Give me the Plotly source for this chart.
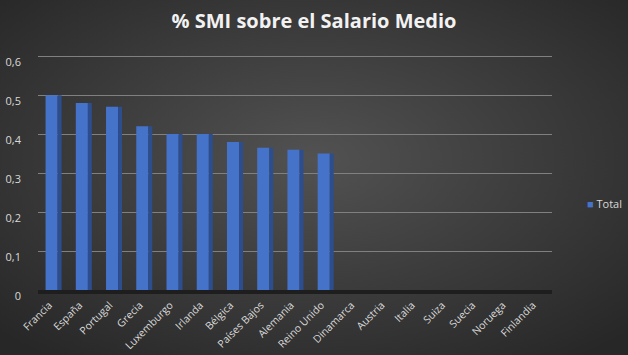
import base64
import plotly.graph_objects as go

categories = ["Francia", "España", "Portugal", "Grecia", "Luxemburgo", "Irlanda", "Bélgica",
              "Países Bajos", "Alemania", "Reino Unido", "Dinamarca", "Austria", "Italia",
              "Suiza", "Suecia", "Noruega", "Finlandia"]
values = [0.50, 0.48, 0.47, 0.42, 0.40, 0.40, 0.38, 0.365, 0.36, 0.35, 0, 0, 0, 0, 0, 0, 0]
y_ticks = [0, 0.1, 0.2, 0.3, 0.4, 0.5, 0.6]
y_tick_labels = ["0", "0,1", "0,2", "0,3", "0,4", "0,5", "0,6"]

W, H = 628, 355
ML, MR, MT, MB = 38, 76, 55, 65
pw, ph = W - ML - MR, H - MT - MB

svg = f'''<svg xmlns="http://www.w3.org/2000/svg" width="{W}" height="{H}" viewBox="0 0 {W} {H}">
<defs><radialGradient id="g" cx="50%" cy="45%" r="70%">
<stop offset="0%" stop-color="#525252"/><stop offset="100%" stop-color="#272727"/></radialGradient></defs>
<rect width="{W}" height="{H}" fill="url(#g)"/></svg>'''
bg = "data:image/svg+xml;base64," + base64.b64encode(svg.encode()).decode()

fig = go.Figure()
fig.add_trace(go.Bar(x=categories, y=values, name="Total", width=0.4, offset=-0.25,
                     marker=dict(color="#4673ca", line=dict(width=0)), showlegend=False))
fig.add_trace(go.Bar(x=categories, y=values, name="side", width=0.13, offset=0.15,
                     marker=dict(color="#2c4e8f", line=dict(width=0)), showlegend=False,
                     hoverinfo="skip"))

fig.add_annotation(text="<span style='color:#4673ca'>■</span> Total", xref="paper", yref="paper",
                   x=(585 - ML) / pw, y=(H - MB - 203) / ph, xanchor="left", yanchor="middle",
                   showarrow=False, font=dict(family="Open Sans", size=11, color="#d9d9d9"))

fig.update_layout(
    width=W, height=H,
    margin=dict(l=ML, r=MR, t=MT, b=MB, autoexpand=False),
    barmode="overlay",
    paper_bgcolor="#3a3a3a",
    plot_bgcolor="rgba(0,0,0,0)",
    separators=",.",
    font=dict(family="Open Sans", color="#d9d9d9", size=11),
    title=dict(text="<b>% SMI sobre el Salario Medio</b>", x=0.5, xanchor="center",
               y=0.94, yanchor="middle",
               font=dict(family="Open Sans", size=20, color="#f2f2f2")),
    images=[dict(source=bg, xref="paper", yref="paper",
                 x=-ML / pw, y=1 + MT / ph, sizex=W / pw, sizey=H / ph,
                 xanchor="left", yanchor="top", sizing="stretch", layer="below")],
    xaxis=dict(tickangle=-45, tickfont=dict(size=10.5, color="#d9d9d9"),
               showgrid=False, showline=True, linecolor="#1e1e1e", linewidth=4,
               ticks="", range=[-0.5, 16.5], ticklabelstandoff=1, ticklabelshift=-4,
               automargin=False),
    yaxis=dict(range=[0, 0.603], tickvals=y_ticks, ticktext=y_tick_labels,
               showgrid=True, gridcolor="#808080", gridwidth=1,
               zeroline=False, showline=False, ticks="", ticklabelstandoff=16,
               ticklabelshift=6, automargin=False,
               tickfont=dict(size=11, color="#d9d9d9")),
)

fig.write_html("out.html")
